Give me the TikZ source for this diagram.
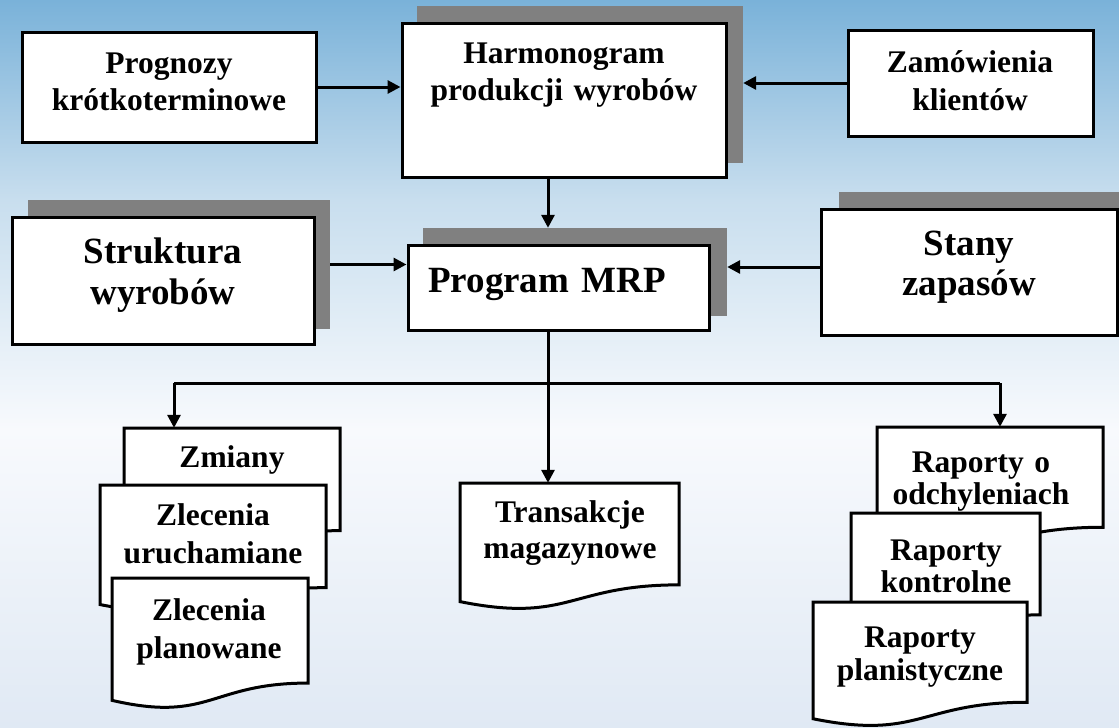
\documentclass[tikz,border=0pt]{standalone}
\usepackage{fontspec}
\setmainfont{Liberation Serif}
\usetikzlibrary{arrows.meta,calc}
\definecolor{bgA}{RGB}{122,178,217}
\definecolor{bgB}{RGB}{200,222,238}
\definecolor{bgC}{RGB}{248,250,253}
\definecolor{bgD}{RGB}{224,233,244}
\definecolor{shadowgray}{RGB}{128,128,128}
\newcommand\docshape[5]{%
  \path[docfill] (#2,#3) -- ({#2+#4},#3) -- ({#2+#4},{#3+0.802*#5})
    .. controls ({#2+#4/2},{#3+0.802*#5}) and ({#2+#4/2},{#3+1.107*#5}) .. (#2,{#3+0.934*#5}) -- cycle;
  \node[docarea, minimum width=#4, minimum height=#5] (#1) at ({#2+#4/2},{#3+#5/2}) {};}
\begin{document}
\begin{tikzpicture}[x=1pt,y=-1pt,
  boxst/.style={draw=black, line width=3pt, fill=white, inner sep=0pt, rectangle},
  shadowst/.style={fill=shadowgray, draw=none, inner sep=0pt, rectangle},
  docarea/.style={draw=none, inner sep=0pt, rectangle},
  docfill/.style={draw=black, line width=3pt, fill=white, line join=miter},
  smalltxt/.style={font=\fontsize{31.5}{37}\selectfont\bfseries, align=center, inner sep=0pt, text width=330pt, anchor=base},
  bigtxt/.style={font=\fontsize{37}{41}\selectfont\bfseries, align=center, inner sep=0pt, text width=330pt, anchor=base},
  conn/.style={line width=3pt},
  arr/.style={conn, -{Triangle[length=13pt,width=13pt]}}
]
\useasboundingbox (0,0) rectangle (1119,728);
% background
\shade[top color=bgA, bottom color=bgB] (0,0) rectangle (1119,200);
\shade[top color=bgB, bottom color=bgC] (0,199.5) rectangle (1119,430);
\shade[top color=bgC, bottom color=bgD] (0,429.5) rectangle (1119,728);

% top row
\node[boxst, minimum width=294, minimum height=110] (prog) at (169,87) {};
\node[smalltxt] (progT) at (169,73) {Prognozy\\krótkoterminowe};

\node[shadowst, minimum width=326, minimum height=157] (harmS) at (580,84.5) {};
\node[boxst, minimum width=324, minimum height=154] (harm) at (564,100) {};
\node[smalltxt] (harmT) at (564,63) {Harmonogram\\produkcji wyrobów};

\node[boxst, minimum width=245, minimum height=106] (zam) at (970.5,83) {};
\node[smalltxt, font=\fontsize{31.5}{38}\selectfont\bfseries] (zamT) at (970,72) {Zamówienia\\klientów};

% middle row
\node[shadowst, minimum width=302, minimum height=129] (strkS) at (179,264.5) {};
\node[boxst, minimum width=302, minimum height=127] (strk) at (163,280.5) {};
\node[bigtxt] (strkT) at (163,263) {Struktura\\wyrobów};

\node[shadowst, minimum width=304, minimum height=88] (mrpS) at (575,272) {};
\node[boxst, minimum width=301, minimum height=85] (mrp) at (558.5,287.5) {};
\node[bigtxt] (mrpT) at (547,292) {Program MRP};

\node[shadowst, minimum width=290, minimum height=128] (stanyS) at (984,256) {};
\node[boxst, minimum width=296, minimum height=126] (stany) at (969,272) {};
\node[bigtxt, font=\fontsize{37}{40}\selectfont\bfseries] (stanyT) at (969,255) {Stany\\zapasów};

% connectors
\coordinate (spine) at (548,0);
\draw[arr] (prog.east) -- (prog.east -| harm.west);
\draw[arr] (zam.west) -- (zam.west -| harmS.east);
\draw[arr] (harm.south -| spine) -- (mrpS.north -| spine);
\draw[arr] (strkS.east) -- (strkS.east -| mrp.west);
\draw[arr] ($(stany.west)+(0,-5)$) -- ($(stany.west -| mrpS.east)+(0,-5)$);

\coordinate (jC) at (548,383);
\coordinate (jL) at (174,383);
\coordinate (jR) at (1000,383);

% documents left stack
\docshape{zm}{124}{428}{216}{128}
\node[smalltxt] (zmT) at (232,467) {Zmiany};
\docshape{zu}{100}{485}{226}{128}
\node[smalltxt, font=\fontsize{31.5}{38}\selectfont\bfseries] (zuT) at (213,525) {Zlecenia\\uruchamiane};
\docshape{zp}{112}{578}{196}{131}
\node[smalltxt, font=\fontsize{31.5}{38}\selectfont\bfseries] (zpT) at (209,620) {Zlecenia\\planowane};

% middle document
\docshape{tr}{460}{483}{219}{127}
\node[smalltxt, font=\fontsize{31.5}{36}\selectfont\bfseries] (trT) at (570,522) {Transakcje\\magazynowe};

% right stack
\docshape{ro}{877}{427}{226}{125}
\node[smalltxt, font=\fontsize{31.5}{32}\selectfont\bfseries] (roT) at (981,472) {Raporty o\\odchyleniach};
\docshape{rk}{851}{513}{189}{127}
\node[smalltxt, font=\fontsize{31.5}{32}\selectfont\bfseries] (rkT) at (946,560) {Raporty\\kontrolne};
\docshape{rp}{813}{602}{214}{125}
\node[smalltxt, font=\fontsize{31.5}{33}\selectfont\bfseries] (rpT) at (920,647) {Raporty\\planistyczne};

% lower connectors
\draw[arr] (mrp.south -| spine) -- (spine |- tr.north);
\draw[conn] (jL) -- (jR);
\draw[arr] (jL) -- (jL |- zm.north);
\draw[arr] (jR) -- (jR |- ro.north);
\end{tikzpicture}
\end{document}
